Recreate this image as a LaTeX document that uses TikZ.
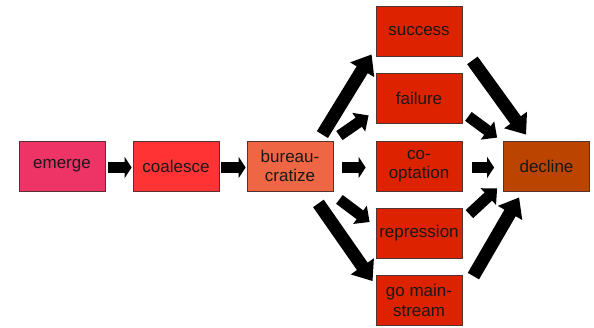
\documentclass[tikz,border=0pt]{standalone}
\usepackage{fontspec}
\setmainfont{Liberation Sans}
\usetikzlibrary{arrows.meta}
\definecolor{cEm}{HTML}{EE3366}
\definecolor{cCo}{HTML}{FF3333}
\definecolor{cBu}{HTML}{EE6644}
\definecolor{cOut}{HTML}{DD2200}
\definecolor{cDe}{HTML}{BB4400}
\definecolor{cBd}{HTML}{553333}
\tikzset{
  boxnode/.style={draw=cBd, line width=0.8pt, minimum width=86pt, minimum height=50pt,
    inner sep=0pt, align=center, font=\fontsize{17}{19.5}\selectfont, text=black!90},
  harrow/.style={line width=11pt, -{Triangle[width=21pt,length=7pt]}},
  sarrow/.style={line width=11pt, -{Triangle[width=22pt,length=12pt]}},
  darrow/.style={line width=13pt, -{Triangle[width=27pt,length=18pt]}}
}
\begin{document}
\begin{tikzpicture}[x=1pt,y=-1pt]
\useasboundingbox (0,0) rectangle (594,327);
\node[boxnode, fill=cEm] (em) at (62,166) {emerge};
\node[boxnode, fill=cCo] (co) at (176,166) {coalesce};
\node[boxnode, fill=cBu] (bu) at (290,166) {bureau-\\cratize};
\node[boxnode, fill=cOut] (su) at (419,31) {success};
\node[boxnode, fill=cOut] (fa) at (419,98) {failure};
\node[boxnode, fill=cOut] (op) at (419,166) {co-\\optation};
\node[boxnode, fill=cOut] (re) at (419,233.5) {repression};
\node[boxnode, fill=cOut] (ma) at (419,300.5) {go main-\\stream};
\node[boxnode, fill=cDe] (de) at (546.5,166) {decline};
% horizontal arrows
\draw[harrow] ([shift={(3,1.5)}]em.east) -- ([shift={(-1,1.5)}]co.west);
\draw[harrow] ([shift={(2,1.5)}]co.east) -- ([shift={(-1,1.5)}]bu.west);
\draw[harrow] ([shift={(9,1.5)}]bu.east) -- ([shift={(-10,1.5)}]op.west);
\draw[harrow] ([shift={(10,1.5)}]op.east) -- ([shift={(-9,1.5)}]de.west);
% bureaucratize to outcomes
\draw[darrow] ([shift={(-11,-6)}]bu.north east) -- ([shift={(-4,-2)}]su.south west);
\draw[sarrow] ([shift={(6,-5)}]bu.north east) -- ([shift={(-7,-8)}]fa.south west);
\draw[sarrow] ([shift={(6,8)}]bu.south east) -- ([shift={(-6,-11.5)}]re.west);
\draw[darrow] ([shift={(-15,12)}]bu.south east) -- ([shift={(-3,6)}]ma.north west);
% outcomes to decline
\draw[darrow] ([shift={(10,4)}]su.south east) -- ([shift={(23,-6)}]de.north west);
\draw[sarrow] ([shift={(6,-7)}]fa.south east) -- ([shift={(-6,-3)}]de.north west);
\draw[sarrow] ([shift={(7,6)}]re.north east) -- ([shift={(-6,-3)}]de.south west);
\draw[darrow] ([shift={(11,1)}]ma.north east) -- ([shift={(16,6)}]de.south west);
\end{tikzpicture}
\end{document}
